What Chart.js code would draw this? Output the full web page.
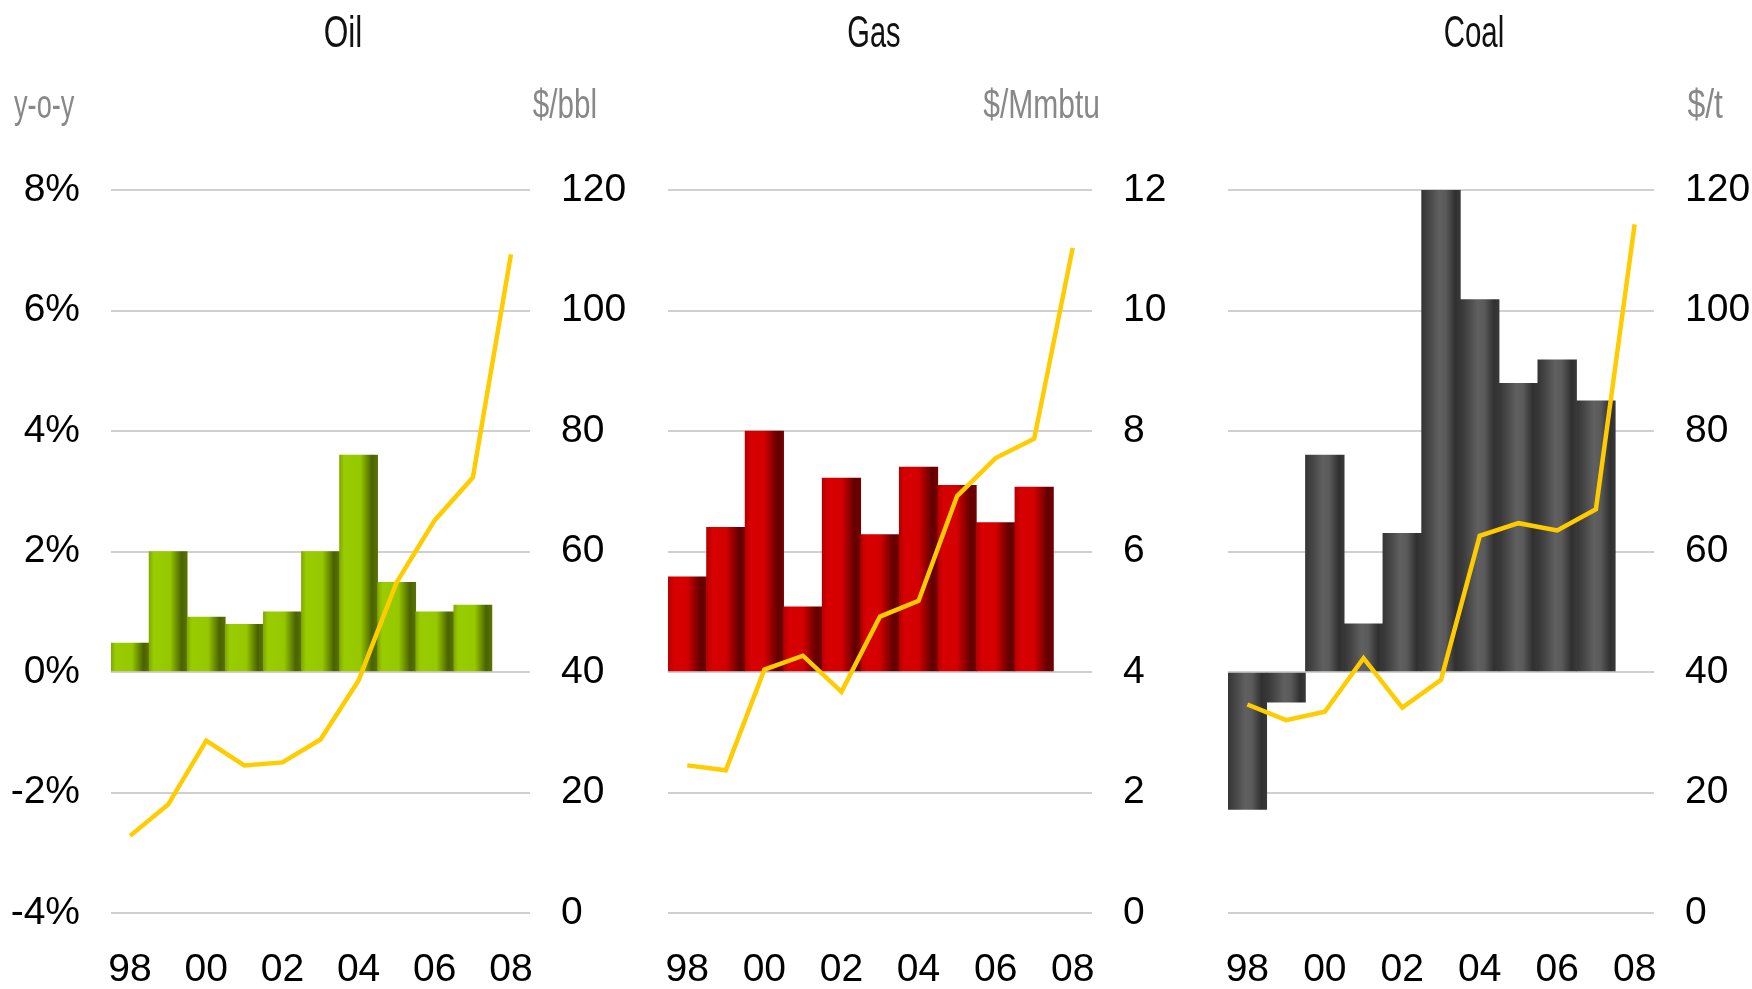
<!DOCTYPE html>
<html>
<head>
<meta charset="utf-8">
<script src="https://cdn.jsdelivr.net/npm/chart.js@4.4.1/dist/chart.umd.min.js"></script>
<style>
  body { margin: 0; background: #fff; }
  #page { position: relative; width: 1752px; height: 989px; overflow: hidden; background: #fff; }
  canvas { position: absolute; top: 0; }
  .lbl { position: absolute; white-space: nowrap; line-height: 1; font-family: "Liberation Sans", Arial, sans-serif; }
  .title { font-size: 44px; color: #111; top: 10px; }
  .unit { font-size: 40px; color: #888; top: 84px; }
</style>
</head>
<body>
<div id="page">
  <canvas id="oilChart" width="660" height="989" style="left:0px"></canvas>
  <canvas id="gasChart" width="610" height="989" style="left:600px"></canvas>
  <canvas id="coalChart" width="592" height="989" style="left:1160px"></canvas>
</div>
<script>
// years on the x axis (bars stop at 07, the price line runs to 08)
const years = ['98', '99', '00', '01', '02', '03', '04', '05', '06', '07', '08'];

// y-o-y growth, % (left axis)
const oilGrowth  = [0.48, 2.0, 0.91, 0.79, 1.0, 2.0, 3.6, 1.49, 1.0, 1.11, null];
const gasGrowth  = [1.58, 2.4, 4.0, 1.08, 3.22, 2.28, 3.4, 3.1, 2.48, 3.07, null];
const coalGrowth = [-2.28, -0.5, 3.6, 0.8, 2.3, 8.0, 6.18, 4.79, 5.18, 4.5, null];

// prices (right axis)
const oilPrice  = [12.8, 18.0, 28.6, 24.5, 25.0, 28.8, 38.6, 54.9, 65.2, 72.3, 109.3];
const gasPrice  = [2.45, 2.37, 4.04, 4.27, 3.67, 4.92, 5.18, 6.92, 7.55, 7.87, 11.04];
const coalPrice = [34.6, 32.0, 33.4, 42.3, 34.1, 38.7, 62.6, 64.7, 63.5, 67.0, 114.3];

const tickFont = { family: '"Liberation Sans", Arial, sans-serif', size: 39 };

function barFill(stops) {
  return function (c) {
    const x = c.chart.scales.x;
    if (c.type !== 'data' || !x || !x.width) return stops[1][1];
    const w = x.width / years.length;
    const left = x.getPixelForValue(c.dataIndex) - w / 2;
    const g = c.chart.ctx.createLinearGradient(left, 0, left + w, 0);
    stops.forEach(s => g.addColorStop(s[0], s[1]));
    return g;
  };
}

function makeChart(id, growth, price, stops, opts) {
  return new Chart(document.getElementById(id), {
    type: 'bar',
    data: {
      labels: years,
      datasets: [
        {
          type: 'line',
          data: price,
          yAxisID: 'y1',
          borderColor: '#ffcc00',
          borderWidth: 4.5,
          pointRadius: 0,
          tension: 0,
          fill: false
        },
        {
          data: growth,
          yAxisID: 'y',
          backgroundColor: barFill(stops),
          borderWidth: 0,
          barPercentage: 1,
          categoryPercentage: 1
        }
      ]
    },
    options: {
      responsive: false,
      devicePixelRatio: 1,
      animation: false,
      layout: { padding: { top: 190, left: 0, right: 0, bottom: 0 } },
      plugins: { legend: { display: false }, tooltip: { enabled: false } },
      scales: {
        x: {
          grid: { display: false, drawTicks: false },
          border: { display: false },
          ticks: {
            autoSkip: false, maxRotation: 0, padding: 34, color: '#000', font: tickFont,
            callback: (v, i) => (i % 2 === 0 ? years[i] : '')
          },
          afterFit: s => { s.height = 76; }
        },
        y: {
          position: 'left',
          min: -4, max: 8,
          z: 1,
          ticks: {
            stepSize: 2, display: opts.showLeft, padding: 31, color: '#000', font: tickFont,
            callback: v => v + '%'
          },
          grid: {
            drawTicks: false, lineWidth: 2,
            color: c => (c.tick && c.tick.value === 0 ? '#000' : 'rgba(0,0,0,0)')
          },
          border: { display: false },
          afterFit: s => { s.width = opts.leftW; }
        },
        y1: {
          position: 'right',
          min: 0, max: opts.rightMax,
          ticks: { stepSize: opts.rightStep, padding: 31, color: '#000', font: tickFont },
          grid: { drawTicks: false, lineWidth: 2, color: '#d0d0d0' },
          border: { display: false },
          afterFit: s => { s.width = opts.rightW; }
        }
      }
    }
  });
}

makeChart('oilChart', oilGrowth, oilPrice,
  [[0, '#80a800'], [0.12, '#99cc00'], [0.55, '#96c800'], [0.85, '#4a6200'], [1, '#587400']],
  { showLeft: true, leftW: 111, rightW: 130, rightMax: 120, rightStep: 20 });

makeChart('gasChart', gasGrowth, gasPrice,
  [[0, '#b40000'], [0.15, '#d80000'], [0.5, '#d40000'], [0.85, '#600000'], [1, '#760000']],
  { showLeft: false, leftW: 68, rightW: 118, rightMax: 12, rightStep: 2 });

makeChart('coalChart', coalGrowth, coalPrice,
  [[0, '#353535'], [0.2, '#474747'], [0.45, '#606060'], [0.62, '#5a5a5a'], [0.87, '#303030'], [1, '#383838']],
  { showLeft: false, leftW: 68, rightW: 98, rightMax: 120, rightStep: 20 });

// titles and unit labels (condensed look via horizontal squeeze)
const page = document.getElementById('page');
function addLabel(text, cls, x, anchor, scale) {
  const d = document.createElement('div');
  d.className = 'lbl ' + cls;
  d.textContent = text;
  d.style.left = x + 'px';
  const shift = anchor === 'center' ? '-50%' : anchor === 'right' ? '-100%' : '0';
  d.style.transform = 'translateX(' + shift + ')';
  d.style.transformOrigin = anchor === 'center' ? '50% 0' : anchor === 'right' ? '100% 0' : '0 0';
  d.style.transform += ' scaleX(' + scale + ')';
  page.appendChild(d);
}
addLabel('Oil', 'title', 343, 'center', 0.72);
addLabel('Gas', 'title', 874, 'center', 0.66);
addLabel('Coal', 'title', 1474, 'center', 0.67);
addLabel('y-o-y', 'unit', 14, 'left', 0.68);
addLabel('$/bbl', 'unit', 597, 'right', 0.74);
addLabel('$/Mmbtu', 'unit', 1100, 'right', 0.75);
addLabel('$/t', 'unit', 1723, 'right', 0.8);
</script>
</body>
</html>
